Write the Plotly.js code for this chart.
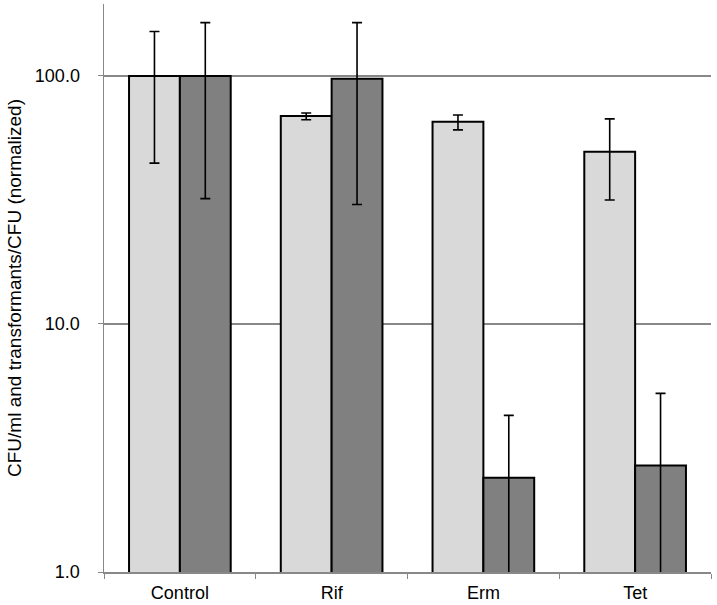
<!DOCTYPE html>
<html>
<head>
<meta charset="utf-8">
<script src="https://cdn.plot.ly/plotly-3.0.1.min.js"></script>
<style>html,body{margin:0;padding:0;background:#fff;}#chart{width:717px;height:605px;}</style>
</head>
<body>
<div id="chart"></div>
<script>
var categories = ["Control", "Rif", "Erm", "Tet"];
var lightValues = [100, 69.0, 65.3, 49.5];
var lightErrPlus = [51, 1.9, 4.3, 17.6];
var lightErrMinus = [55.5, 2.4, 4.7, 17.9];
var darkValues = [100, 97.5, 2.40, 2.69];
var darkErrPlus = [64, 66.5, 1.88, 2.56];
var darkErrMinus = [68, 67.2, 1.9, 2.19];
var yTickVals = [1, 10, 100];
var yTickText = ["1.0", "10.0", "100.0"];

var errStyle = {color: "#000", thickness: 1.6, width: 5};
var traceLight = {
  type: "bar", x: categories, y: lightValues,
  marker: {color: "#d9d9d9", line: {color: "#000", width: 2}},
  error_y: Object.assign({type: "data", symmetric: false, array: lightErrPlus, arrayminus: lightErrMinus}, errStyle),
  hoverinfo: "none"
};
var traceDark = {
  type: "bar", x: categories, y: darkValues,
  marker: {color: "#808080", line: {color: "#000", width: 2}},
  error_y: Object.assign({type: "data", symmetric: false, array: darkErrPlus, arrayminus: darkErrMinus}, errStyle),
  hoverinfo: "none"
};
var layout = {
  width: 717, height: 605,
  margin: {l: 104, r: 6, t: 4, b: 33},
  paper_bgcolor: "#fff", plot_bgcolor: "#fff",
  showlegend: false,
  barmode: "group", bargap: 0.33, bargroupgap: 0,
  font: {family: "Liberation Sans, Arial, sans-serif", size: 18, color: "#000"},
  xaxis: {
    showline: true, linecolor: "#888", linewidth: 1.5,
    ticks: "outside", ticklen: 5, tickcolor: "#888", tickson: "boundaries",
    showgrid: false, zeroline: false,
    tickfont: {size: 18}, ticklabelstandoff: 4
  },
  yaxis: {
    type: "log", range: [0, 2.29],
    tickvals: yTickVals, ticktext: yTickText,
    showline: true, linecolor: "#888", linewidth: 1.5,
    ticks: "outside", ticklen: 5, tickcolor: "#888",
    showgrid: true, gridcolor: "#888", gridwidth: 1.3,
    zeroline: false,
    tickfont: {size: 18}, ticklabelstandoff: 14,
    title: {text: "CFU/ml and transformants/CFU (normalized)", font: {size: 19}, standoff: 8}
  }
};
Plotly.newPlot("chart", [traceLight, traceDark], layout, {displayModeBar: false, staticPlot: true});
</script>
</body>
</html>
